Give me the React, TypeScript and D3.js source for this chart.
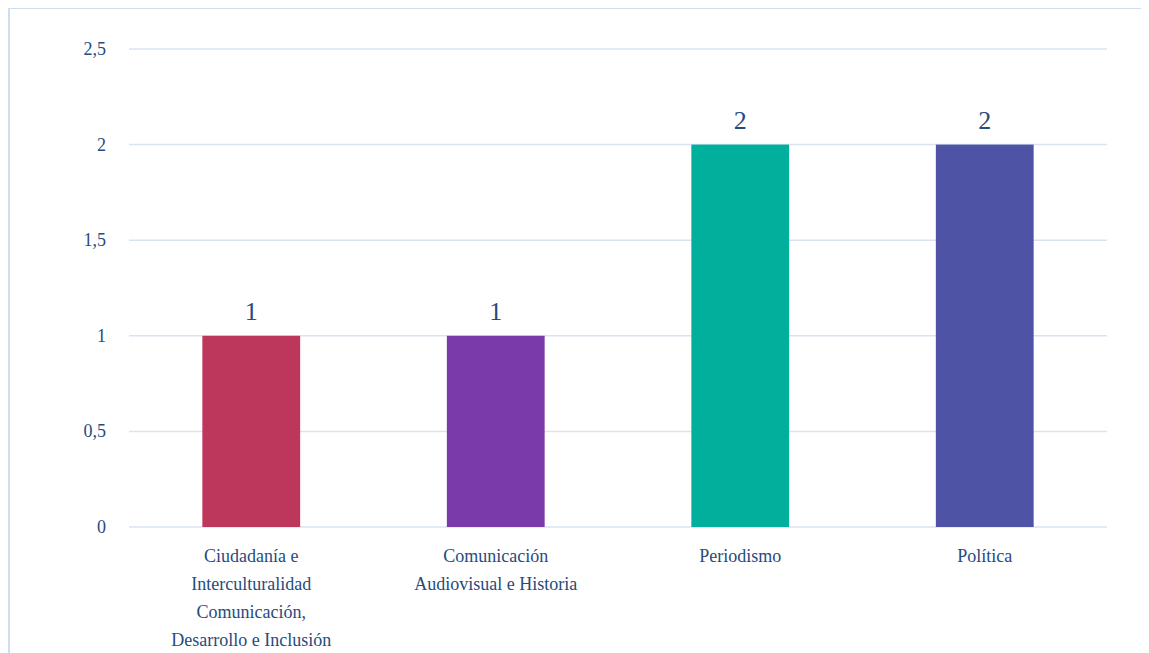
import * as d3 from "d3";

const categories = [
  ["Ciudadanía e", "Interculturalidad", "Comunicación,", "Desarrollo e Inclusión"],
  ["Comunicación", "Audiovisual e Historia"],
  ["Periodismo"],
  ["Política"],
];
const values = [1, 1, 2, 2];
const colors = ["#BC375B", "#7B3AAA", "#00B09C", "#4E53A6"];
const yTicks = [0, 0.5, 1, 1.5, 2, 2.5];

const width = 1141;
const height = 660;
const textColor = "#264B7D";
const font = "Liberation Serif";
// 20-25px 时该字体会被替换成无衬线，所以标签用 18px，数值用 26px
const labelSize = 18;
const valueSize = 26;

export default function App() {
  const margin = { top: 42, left: 121, right: 42 };
  const innerWidth = width - margin.left - margin.right;
  const innerHeight = 520 - margin.top;

  const x = d3
    .scaleBand()
    .domain(values.map((_d, i) => String(i)))
    .range([0, innerWidth])
    .paddingInner(0.6)
    .paddingOuter(0.3);

  const y = d3.scaleLinear().domain([0, 2.5]).range([innerHeight, 0]);

  return (
    <svg
      width={width}
      height={height}
      style={{ display: "block", marginTop: -1, overflow: "hidden" }}
    >
      {/* 外框 */}
      <rect
        x={1}
        y={1}
        width={width - 3}
        height={height}
        fill="#fff"
        stroke="#CFDDF0"
        strokeWidth={2}
      />
      <g transform={`translate(${margin.left},${margin.top})`}>
        {/* 网格线 */}
        {yTicks.map((t) => (
          <line
            key={`g${t}`}
            x1={0}
            x2={innerWidth}
            y1={y(t)}
            y2={y(t)}
            stroke="#D9E3F2"
            strokeWidth={1.5}
          />
        ))}
        {/* Y 轴 */}
        {yTicks.map((t) => (
          <text
            key={`t${t}`}
            x={-23}
            y={y(t) + 6}
            textAnchor="end"
            fontFamily={font}
            fontSize={labelSize}
            fill={textColor}
          >
            {String(t).replace(".", ",")}
          </text>
        ))}
        {/* 柱子 */}
        {values.map((v, i) => (
          <rect
            key={`b${i}`}
            x={x(String(i)) || 0}
            width={x.bandwidth()}
            y={y(v)}
            height={innerHeight - y(v)}
            fill={colors[i]}
          />
        ))}
        {/* 数值标签 */}
        {values.map((v, i) => (
          <text
            key={`l${i}`}
            x={(x(String(i)) || 0) + x.bandwidth() / 2}
            y={y(v) - 16}
            textAnchor="middle"
            fontFamily={font}
            fontSize={valueSize}
            fill={textColor}
          >
            {v}
          </text>
        ))}
        {/* 类别标签 */}
        {categories.map((lines, i) => {
          const cx = (x(String(i)) || 0) + x.bandwidth() / 2;
          return (
            <text
              key={`c${i}`}
              x={cx}
              y={innerHeight + 35}
              textAnchor="middle"
              fontFamily={font}
              fontSize={labelSize}
              fill={textColor}
            >
              {lines.map((s, j) => (
                <tspan key={j} x={cx} dy={j === 0 ? 0 : 28}>
                  {s}
                </tspan>
              ))}
            </text>
          );
        })}
      </g>
    </svg>
  );
}
